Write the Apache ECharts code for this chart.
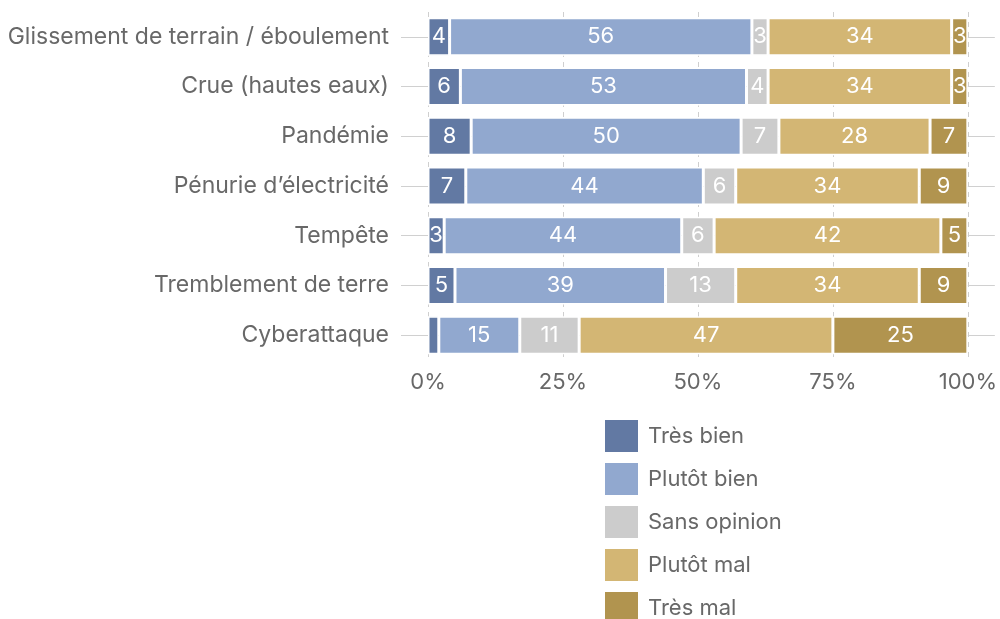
<!DOCTYPE html>
<html>
<head>
<meta charset="utf-8">
<title>Risques</title>
<script src="https://cdn.jsdelivr.net/npm/echarts@6/dist/echarts.min.js"></script>
<style>
  body { margin: 0; background: #fff; }
</style>
</head>
<body>
<div id="main" style="width: 1000px;height:619px;"></div>
<script type="text/javascript">
// categories (top to bottom)
var categories = ['Glissement de terrain / éboulement', 'Crue (hautes eaux)', 'Pandémie',
  'Pénurie d’électricité', 'Tempête', 'Tremblement de terre', 'Cyberattaque'];
var seriesNames = ['Très bien', 'Plutôt bien', 'Sans opinion', 'Plutôt mal', 'Très mal'];
var tresBien    = [4, 6, 8, 7, 3, 5, 2];
var plutotBien  = [56, 53, 50, 44, 44, 39, 15];
var sansOpinion = [3, 4, 7, 6, 6, 13, 11];
var plutotMal   = [34, 34, 28, 34, 42, 34, 47];
var tresMal     = [3, 3, 7, 9, 5, 9, 25];
var xTicks = [0, 25, 50, 75, 100];

var colors = ['#6279a3', '#91a8cf', '#cccccc', '#d3b674', '#b1944f'];
var font = 'Inter, "Noto Sans", sans-serif';
var txt = '#686868';

var myChart = echarts.init(document.getElementById('main'));

var values = [tresBien, plutotBien, sansOpinion, plutotMal, tresMal];
var series = values.map(function (d, i) {
  return {
    name: seriesNames[i],
    type: 'bar',
    stack: 'total',
    z: 3,
    barWidth: 38,
    data: d,
    itemStyle: { color: colors[i], borderColor: '#fff', borderWidth: 1.5 },
    label: {
      show: true,
      position: 'inside',
      color: '#fff',
      fontSize: 22,
      fontFamily: font,
      formatter: function (p) { return p.value >= 3 ? p.value : ''; }
    }
  };
});

// grid lines behind the bars
series.unshift({
  name: 'grille',
  type: 'line',
  z: 0,
  data: [],
  silent: true,
  markLine: {
    silent: true,
    z: 0,
    symbol: 'none',
    animation: false,
    label: { show: false },
    data: categories.map(function (c, i) {
      return { yAxis: i, lineStyle: { color: '#d0d0d0', width: 1, type: 'solid' } };
    }).concat(xTicks.map(function (v) {
      return { xAxis: v, lineStyle: { color: '#cfcfcf', width: 1, type: [5, 5] } };
    }))
  }
});

var option = {
  animation: false,
  grid: { left: 401, right: 1, top: 12, height: 348 },
  legend: {
    data: seriesNames,
    orient: 'vertical',
    left: 603,
    top: 418,
    height: 260,
    padding: 0,
    itemWidth: 35,
    itemHeight: 34,
    itemGap: 7,
    icon: 'rect',
    textStyle: { fontSize: 22, color: txt, fontFamily: font, padding: [0, 0, 0, 4] }
  },
  xAxis: {
    type: 'value',
    min: -5,
    max: 105,
    axisLine: { show: false },
    axisTick: { show: false },
    splitLine: { show: false },
    axisLabel: {
      customValues: xTicks,
      formatter: '{value}%',
      fontSize: 22,
      color: txt,
      fontFamily: font,
      margin: 11
    }
  },
  yAxis: {
    type: 'category',
    inverse: true,
    data: categories,
    axisLine: { show: false },
    axisTick: { show: false },
    splitLine: { show: false },
    axisLabel: { fontSize: 23, color: txt, fontFamily: font, margin: 12 }
  },
  series: series
};

myChart.setOption(option);
</script>
</body>
</html>
